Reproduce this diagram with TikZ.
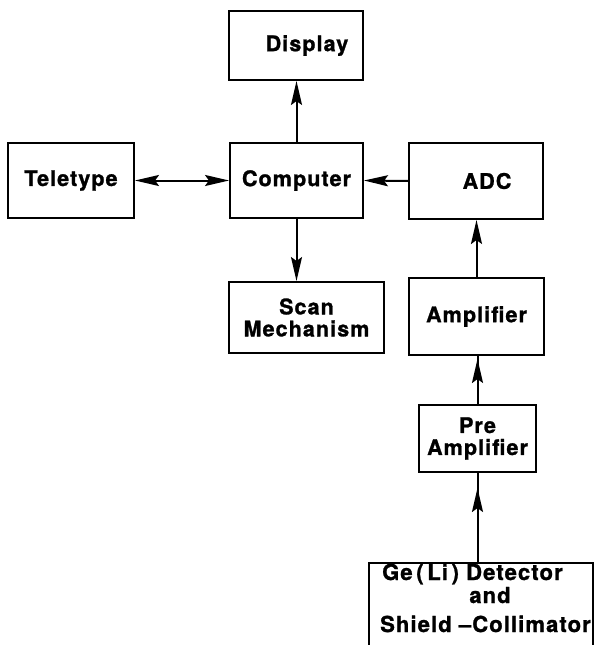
\documentclass[tikz,border=0pt]{standalone}
\usepackage{fontspec}
\newfontfamily\lab{TeX Gyre Heros}[LetterSpace=5,FakeBold=1.2]
\usetikzlibrary{arrows.meta,decorations.markings,calc}
\begin{document}
\begin{tikzpicture}[x=1pt,y=-1pt,
  >={Stealth[length=24pt,width=11pt,inset=4pt]},
  box/.style={draw,line width=2pt,inner sep=0pt,align=center,
    font=\lab\bfseries\fontsize{21.5}{22}\selectfont},
  txt/.style={inner sep=0pt,font=\lab\bfseries\fontsize{22}{22}\selectfont},
  conn/.style={line width=2pt},
  midtip/.style={postaction={decorate},decoration={markings,
    mark=at position #1 with {\arrow{>}}}}]
\useasboundingbox (0,0) rectangle (595,645);
\node[box,minimum width=126pt,minimum height=75pt] (tele) at (71,180.5) {Teletype};
\node[box,minimum width=134pt,minimum height=69pt] (disp) at (296,45.5) {\hspace*{22pt}Display};
\node[box,minimum width=133pt,minimum height=75pt] (comp) at (296.5,180.5) {Computer};
\node[box,minimum width=134pt,minimum height=76pt] (adc) at (476,181) {\hspace*{22pt}ADC};
\node[box,minimum width=155pt,minimum height=71pt] (scan) at (306.5,317.5) {Scan\\Mechanism};
\node[box,minimum width=135pt,minimum height=77pt] (amp) at (476.5,316.5) {Amplifier};
\node[box,minimum width=117pt,minimum height=67pt] (pre) at (477.5,438.5) {Pre\\Amplifier};
\node[minimum width=224pt,minimum height=90pt,inner sep=0pt] (det) at (481,608) {};
\draw[line width=2pt] (369,650) -- (369,563) -- (593,563) -- (593,650);
\node[txt,anchor=base west] (l1) at (382,580) {Ge\,(\,Li\,) Detector};
\node[txt,anchor=base] (l2) at (490,603) {and};
\node[txt,anchor=base west] (l3) at (380,632) {Shield –Collimator};
\draw[conn,<->] (tele.east) -- (comp.west);
\draw[conn,->] (comp.north) -- (comp.north |- disp.south);
\draw[conn,->] (adc.west) -- (comp.east);
\draw[conn,->] (comp.south) -- (comp.south |- scan.north);
\draw[conn,->] (amp.north) -- (amp.north |- adc.south);
\draw[conn,midtip=-3pt] (pre.north) -- (pre.north |- amp.south);
\draw[conn,midtip=-15pt] (pre.south |- det.north) -- (pre.south);
\end{tikzpicture}
\end{document}
